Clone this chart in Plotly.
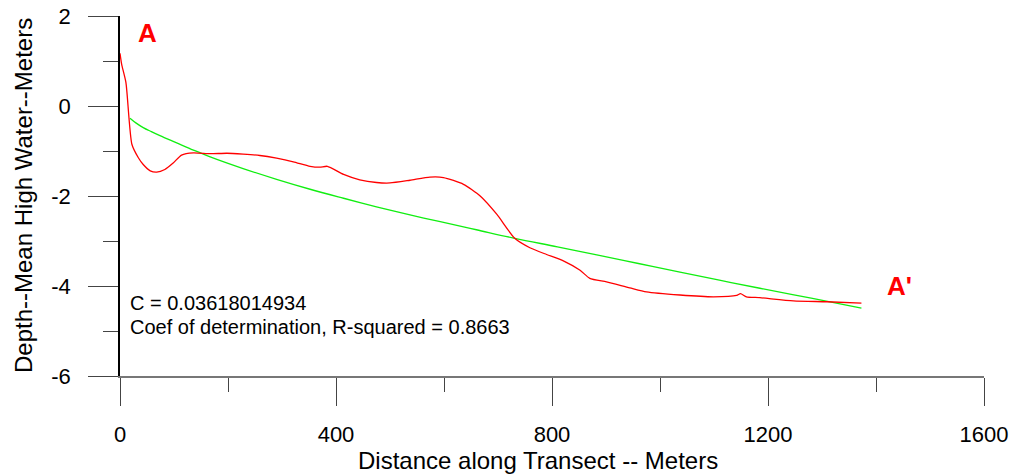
import plotly.graph_objects as go

# Measured transect profile (distance in m, depth relative to MHW in m)
profile_x = [0, 3, 11, 22, 34, 43, 56, 68, 83, 99, 114, 136, 167, 198, 228, 259,
             290, 321, 352, 370, 384, 414, 444, 475, 500, 537, 574, 599, 636, 667,
             698, 731, 759, 790, 821, 852, 870, 901, 944, 975, 1037, 1099, 1142,
             1149, 1160, 1185, 1247, 1309, 1373]
profile_y = [1.17, 0.93, 0.52, -0.85, -1.15, -1.30, -1.44, -1.47, -1.41, -1.26,
             -1.09, -1.04, -1.06, -1.05, -1.07, -1.10, -1.16, -1.24, -1.34, -1.36,
             -1.34, -1.52, -1.64, -1.70, -1.71, -1.65, -1.58, -1.59, -1.74, -2.00,
             -2.41, -2.94, -3.15, -3.30, -3.44, -3.65, -3.83, -3.91, -4.04, -4.13,
             -4.20, -4.24, -4.21, -4.17, -4.24, -4.26, -4.33, -4.35, -4.38]

# Fitted equilibrium profile
fit_x = [18.5, 30, 43, 58, 74, 105, 136, 167, 228, 290, 352, 414, 475, 537, 593,
         660, 731, 810, 883, 960, 1037, 1110, 1185, 1280, 1373]
fit_y = [-0.27, -0.38, -0.48, -0.57, -0.66, -0.82, -0.98, -1.13, -1.39, -1.63,
         -1.85, -2.05, -2.24, -2.42, -2.57, -2.75, -2.94, -3.13, -3.31, -3.50,
         -3.69, -3.87, -4.05, -4.27, -4.49]

x_ticks = [0, 400, 800, 1200, 1600]
y_ticks = [2, 0, -2, -4, -6]

fit_label = "C = 0.03618014934"
r2_label = "Coef of determination, R-squared = 0.8663"

FONT = "Arial, 'Liberation Sans', sans-serif"

# plot area in pixels
L, R, T, B = 120, 984, 16, 376
W, H = R - L, B - T

fig = go.Figure()
fig.add_trace(go.Scatter(x=fit_x, y=fit_y, mode="lines",
                         line=dict(color="#11ee11", width=1.3, shape="spline"),
                         hoverinfo="skip"))
fig.add_trace(go.Scatter(x=profile_x, y=profile_y, mode="lines",
                         line=dict(color="#ff0000", width=1.3, shape="spline", smoothing=0.6),
                         hoverinfo="skip"))

fig.update_layout(
    width=1015, height=475,
    margin=dict(l=L, r=1015 - R, t=T, b=475 - B, autoexpand=False),
    paper_bgcolor="white", plot_bgcolor="white",
    showlegend=False,
    font=dict(family=FONT, color="black"),
    xaxis=dict(
        range=[0, 1600], tickvals=x_ticks, ticktext=[str(v) for v in x_ticks],
        showgrid=False, zeroline=False, automargin=False,
        showline=True, linecolor="#777777", linewidth=2,
        ticks="outside", ticklen=28, tickwidth=1.3, tickcolor="#444444",
        minor=dict(dtick=200, ticks="outside", ticklen=14, tickwidth=1.3,
                   tickcolor="#444444", showgrid=False),
        tickfont=dict(size=22, family=FONT),
        ticklabelstandoff=10,
    ),
    yaxis=dict(
        range=[-6, 2], tickvals=y_ticks, ticktext=[str(v) for v in y_ticks],
        showgrid=False, zeroline=False, automargin=False,
        showline=True, linecolor="black", linewidth=1.5,
        ticks="outside", ticklen=30, tickwidth=1.3, tickcolor="#444444",
        minor=dict(dtick=1, ticks="outside", ticklen=15, tickwidth=1.3,
                   tickcolor="#444444", showgrid=False),
        tickfont=dict(size=22, family=FONT),
        ticklabelstandoff=13,
    ),
)

# axis titles
fig.add_annotation(text="Distance along Transect -- Meters", xref="paper", yref="paper",
                   x=(538 - L) / W, y=-(460 - B) / H, xanchor="center", yanchor="middle",
                   showarrow=False, font=dict(size=24, family=FONT))
fig.add_annotation(text="Depth--Mean High Water--Meters", xref="paper", yref="paper",
                   x=(23 - L) / W, y=(B - 196) / H, xanchor="center", yanchor="middle",
                   textangle=-90, showarrow=False, font=dict(size=24, family=FONT))

# transect end labels
fig.add_annotation(text="<b>A</b>", x=50, y=1.62, showarrow=False,
                   font=dict(size=26, color="#ff0000", family=FONT))
fig.add_annotation(text="<b>A'</b>", x=1444, y=-4.0, showarrow=False,
                   font=dict(size=26, color="#ff0000", family=FONT))

# fit statistics
fig.add_annotation(text=fit_label, x=14.8, y=-4.38, xanchor="left", yanchor="middle",
                   showarrow=False, font=dict(size=20, family=FONT))
fig.add_annotation(text=r2_label, x=14.8, y=-4.91, xanchor="left", yanchor="middle",
                   showarrow=False, font=dict(size=20, family=FONT))

fig.write_html("out.html")
